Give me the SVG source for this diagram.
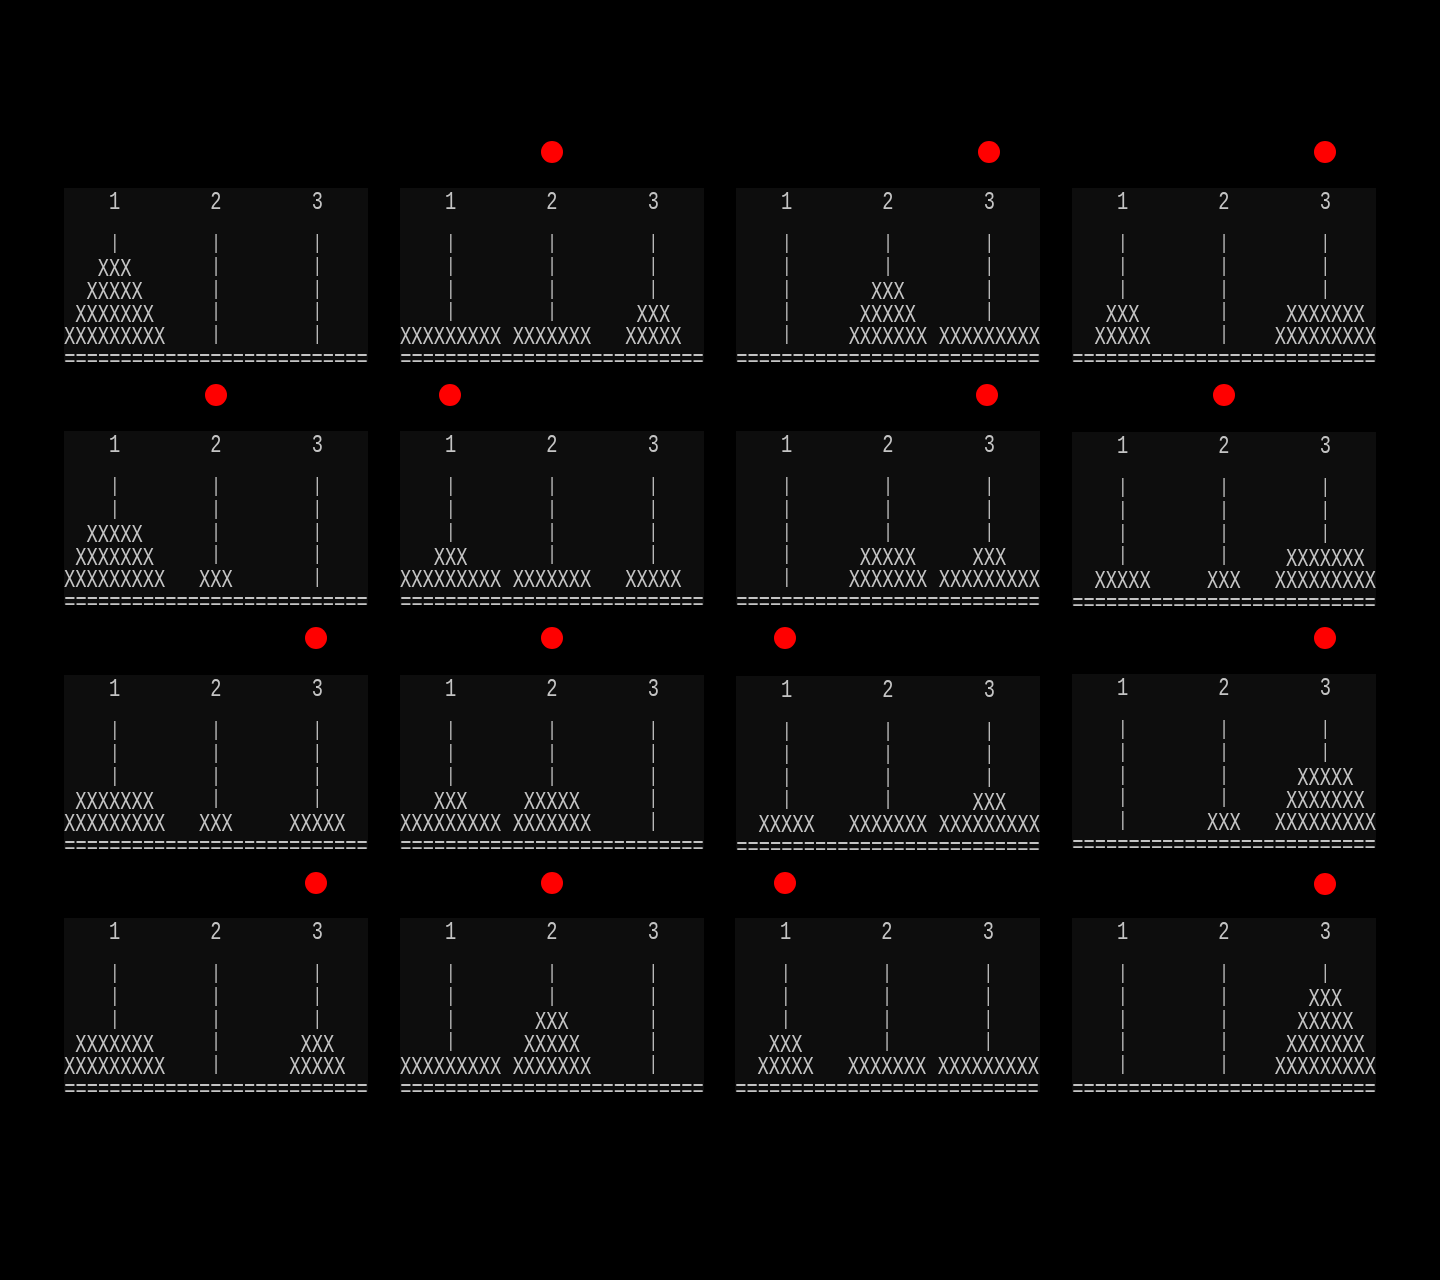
<svg xmlns="http://www.w3.org/2000/svg" width="1440" height="1280" viewBox="0 0 1440 1280">
<defs>
<filter id="gs" x="-5%" y="-5%" width="110%" height="110%"><feOffset dx="0" dy="0"/></filter>
</defs>
<style>
.bg{fill:#0d0d0d}
.a{font-family:"Liberation Mono","DejaVu Sans Mono",monospace;font-size:18.76px;fill:#c4c4c4;text-anchor:middle;transform:scale(1,1.35);filter:url(#gs)}
.p{font-size:15.2px}
.dot{fill:#ff0000}
</style>
<rect width="1440" height="1280" fill="#000"/>

<g id="panel-1" transform="translate(64,188)">
<rect class="bg" width="304" height="174"/>
<text class="a"><tspan x="50.7" y="15.6">1</tspan><tspan x="152" y="15.6">2</tspan><tspan x="253.3" y="15.6">3</tspan><tspan class="p" x="50.7" y="45.3">|</tspan><tspan x="50.7" y="65.3">XXX</tspan><tspan x="50.7" y="82.1">XXXXX</tspan><tspan x="50.7" y="99">XXXXXXX</tspan><tspan x="50.7" y="115.8">XXXXXXXXX</tspan><tspan class="p" x="152" y="45.3">|</tspan><tspan class="p" x="152" y="62.1">|</tspan><tspan class="p" x="152" y="78.9">|</tspan><tspan class="p" x="152" y="95.8">|</tspan><tspan class="p" x="152" y="112.6">|</tspan><tspan class="p" x="253.3" y="45.3">|</tspan><tspan class="p" x="253.3" y="62.1">|</tspan><tspan class="p" x="253.3" y="78.9">|</tspan><tspan class="p" x="253.3" y="95.8">|</tspan><tspan class="p" x="253.3" y="112.6">|</tspan><tspan x="152" y="132.2">===========================</tspan></text>
</g>

<g id="panel-2" transform="translate(400,188)">
<rect class="bg" width="304" height="174"/>
<circle class="dot" cx="152" cy="-36" r="11"/>
<text class="a"><tspan x="50.7" y="15.6">1</tspan><tspan x="152" y="15.6">2</tspan><tspan x="253.3" y="15.6">3</tspan><tspan class="p" x="50.7" y="45.3">|</tspan><tspan class="p" x="50.7" y="62.1">|</tspan><tspan class="p" x="50.7" y="78.9">|</tspan><tspan class="p" x="50.7" y="95.8">|</tspan><tspan x="50.7" y="115.8">XXXXXXXXX</tspan><tspan class="p" x="152" y="45.3">|</tspan><tspan class="p" x="152" y="62.1">|</tspan><tspan class="p" x="152" y="78.9">|</tspan><tspan class="p" x="152" y="95.8">|</tspan><tspan x="152" y="115.8">XXXXXXX</tspan><tspan class="p" x="253.3" y="45.3">|</tspan><tspan class="p" x="253.3" y="62.1">|</tspan><tspan class="p" x="253.3" y="78.9">|</tspan><tspan x="253.3" y="99">XXX</tspan><tspan x="253.3" y="115.8">XXXXX</tspan><tspan x="152" y="132.2">===========================</tspan></text>
</g>

<g id="panel-3" transform="translate(736,188)">
<rect class="bg" width="304" height="174"/>
<circle class="dot" cx="253" cy="-36" r="11"/>
<text class="a"><tspan x="50.7" y="15.6">1</tspan><tspan x="152" y="15.6">2</tspan><tspan x="253.3" y="15.6">3</tspan><tspan class="p" x="50.7" y="45.3">|</tspan><tspan class="p" x="50.7" y="62.1">|</tspan><tspan class="p" x="50.7" y="78.9">|</tspan><tspan class="p" x="50.7" y="95.8">|</tspan><tspan class="p" x="50.7" y="112.6">|</tspan><tspan class="p" x="152" y="45.3">|</tspan><tspan class="p" x="152" y="62.1">|</tspan><tspan x="152" y="82.1">XXX</tspan><tspan x="152" y="99">XXXXX</tspan><tspan x="152" y="115.8">XXXXXXX</tspan><tspan class="p" x="253.3" y="45.3">|</tspan><tspan class="p" x="253.3" y="62.1">|</tspan><tspan class="p" x="253.3" y="78.9">|</tspan><tspan class="p" x="253.3" y="95.8">|</tspan><tspan x="253.3" y="115.8">XXXXXXXXX</tspan><tspan x="152" y="132.2">===========================</tspan></text>
</g>

<g id="panel-4" transform="translate(1072,188)">
<rect class="bg" width="304" height="174"/>
<circle class="dot" cx="253" cy="-36" r="11"/>
<text class="a"><tspan x="50.7" y="15.6">1</tspan><tspan x="152" y="15.6">2</tspan><tspan x="253.3" y="15.6">3</tspan><tspan class="p" x="50.7" y="45.3">|</tspan><tspan class="p" x="50.7" y="62.1">|</tspan><tspan class="p" x="50.7" y="78.9">|</tspan><tspan x="50.7" y="99">XXX</tspan><tspan x="50.7" y="115.8">XXXXX</tspan><tspan class="p" x="152" y="45.3">|</tspan><tspan class="p" x="152" y="62.1">|</tspan><tspan class="p" x="152" y="78.9">|</tspan><tspan class="p" x="152" y="95.8">|</tspan><tspan class="p" x="152" y="112.6">|</tspan><tspan class="p" x="253.3" y="45.3">|</tspan><tspan class="p" x="253.3" y="62.1">|</tspan><tspan class="p" x="253.3" y="78.9">|</tspan><tspan x="253.3" y="99">XXXXXXX</tspan><tspan x="253.3" y="115.8">XXXXXXXXX</tspan><tspan x="152" y="132.2">===========================</tspan></text>
</g>

<g id="panel-5" transform="translate(64,431)">
<rect class="bg" width="304" height="174"/>
<circle class="dot" cx="152" cy="-36" r="11"/>
<text class="a"><tspan x="50.7" y="15.6">1</tspan><tspan x="152" y="15.6">2</tspan><tspan x="253.3" y="15.6">3</tspan><tspan class="p" x="50.7" y="45.3">|</tspan><tspan class="p" x="50.7" y="62.1">|</tspan><tspan x="50.7" y="82.1">XXXXX</tspan><tspan x="50.7" y="99">XXXXXXX</tspan><tspan x="50.7" y="115.8">XXXXXXXXX</tspan><tspan class="p" x="152" y="45.3">|</tspan><tspan class="p" x="152" y="62.1">|</tspan><tspan class="p" x="152" y="78.9">|</tspan><tspan class="p" x="152" y="95.8">|</tspan><tspan x="152" y="115.8">XXX</tspan><tspan class="p" x="253.3" y="45.3">|</tspan><tspan class="p" x="253.3" y="62.1">|</tspan><tspan class="p" x="253.3" y="78.9">|</tspan><tspan class="p" x="253.3" y="95.8">|</tspan><tspan class="p" x="253.3" y="112.6">|</tspan><tspan x="152" y="132.2">===========================</tspan></text>
</g>

<g id="panel-6" transform="translate(400,431)">
<rect class="bg" width="304" height="174"/>
<circle class="dot" cx="50" cy="-36" r="11"/>
<text class="a"><tspan x="50.7" y="15.6">1</tspan><tspan x="152" y="15.6">2</tspan><tspan x="253.3" y="15.6">3</tspan><tspan class="p" x="50.7" y="45.3">|</tspan><tspan class="p" x="50.7" y="62.1">|</tspan><tspan class="p" x="50.7" y="78.9">|</tspan><tspan x="50.7" y="99">XXX</tspan><tspan x="50.7" y="115.8">XXXXXXXXX</tspan><tspan class="p" x="152" y="45.3">|</tspan><tspan class="p" x="152" y="62.1">|</tspan><tspan class="p" x="152" y="78.9">|</tspan><tspan class="p" x="152" y="95.8">|</tspan><tspan x="152" y="115.8">XXXXXXX</tspan><tspan class="p" x="253.3" y="45.3">|</tspan><tspan class="p" x="253.3" y="62.1">|</tspan><tspan class="p" x="253.3" y="78.9">|</tspan><tspan class="p" x="253.3" y="95.8">|</tspan><tspan x="253.3" y="115.8">XXXXX</tspan><tspan x="152" y="132.2">===========================</tspan></text>
</g>

<g id="panel-7" transform="translate(736,431)">
<rect class="bg" width="304" height="174"/>
<circle class="dot" cx="251" cy="-36" r="11"/>
<text class="a"><tspan x="50.7" y="15.6">1</tspan><tspan x="152" y="15.6">2</tspan><tspan x="253.3" y="15.6">3</tspan><tspan class="p" x="50.7" y="45.3">|</tspan><tspan class="p" x="50.7" y="62.1">|</tspan><tspan class="p" x="50.7" y="78.9">|</tspan><tspan class="p" x="50.7" y="95.8">|</tspan><tspan class="p" x="50.7" y="112.6">|</tspan><tspan class="p" x="152" y="45.3">|</tspan><tspan class="p" x="152" y="62.1">|</tspan><tspan class="p" x="152" y="78.9">|</tspan><tspan x="152" y="99">XXXXX</tspan><tspan x="152" y="115.8">XXXXXXX</tspan><tspan class="p" x="253.3" y="45.3">|</tspan><tspan class="p" x="253.3" y="62.1">|</tspan><tspan class="p" x="253.3" y="78.9">|</tspan><tspan x="253.3" y="99">XXX</tspan><tspan x="253.3" y="115.8">XXXXXXXXX</tspan><tspan x="152" y="132.2">===========================</tspan></text>
</g>

<g id="panel-8" transform="translate(1072,432)">
<rect class="bg" width="304" height="174"/>
<circle class="dot" cx="152" cy="-37" r="11"/>
<text class="a"><tspan x="50.7" y="15.6">1</tspan><tspan x="152" y="15.6">2</tspan><tspan x="253.3" y="15.6">3</tspan><tspan class="p" x="50.7" y="45.3">|</tspan><tspan class="p" x="50.7" y="62.1">|</tspan><tspan class="p" x="50.7" y="78.9">|</tspan><tspan class="p" x="50.7" y="95.8">|</tspan><tspan x="50.7" y="115.8">XXXXX</tspan><tspan class="p" x="152" y="45.3">|</tspan><tspan class="p" x="152" y="62.1">|</tspan><tspan class="p" x="152" y="78.9">|</tspan><tspan class="p" x="152" y="95.8">|</tspan><tspan x="152" y="115.8">XXX</tspan><tspan class="p" x="253.3" y="45.3">|</tspan><tspan class="p" x="253.3" y="62.1">|</tspan><tspan class="p" x="253.3" y="78.9">|</tspan><tspan x="253.3" y="99">XXXXXXX</tspan><tspan x="253.3" y="115.8">XXXXXXXXX</tspan><tspan x="152" y="132.2">===========================</tspan></text>
</g>

<g id="panel-9" transform="translate(64,675)">
<rect class="bg" width="304" height="174"/>
<circle class="dot" cx="252" cy="-37" r="11"/>
<text class="a"><tspan x="50.7" y="15.6">1</tspan><tspan x="152" y="15.6">2</tspan><tspan x="253.3" y="15.6">3</tspan><tspan class="p" x="50.7" y="45.3">|</tspan><tspan class="p" x="50.7" y="62.1">|</tspan><tspan class="p" x="50.7" y="78.9">|</tspan><tspan x="50.7" y="99">XXXXXXX</tspan><tspan x="50.7" y="115.8">XXXXXXXXX</tspan><tspan class="p" x="152" y="45.3">|</tspan><tspan class="p" x="152" y="62.1">|</tspan><tspan class="p" x="152" y="78.9">|</tspan><tspan class="p" x="152" y="95.8">|</tspan><tspan x="152" y="115.8">XXX</tspan><tspan class="p" x="253.3" y="45.3">|</tspan><tspan class="p" x="253.3" y="62.1">|</tspan><tspan class="p" x="253.3" y="78.9">|</tspan><tspan class="p" x="253.3" y="95.8">|</tspan><tspan x="253.3" y="115.8">XXXXX</tspan><tspan x="152" y="132.2">===========================</tspan></text>
</g>

<g id="panel-10" transform="translate(400,675)">
<rect class="bg" width="304" height="174"/>
<circle class="dot" cx="152" cy="-37" r="11"/>
<text class="a"><tspan x="50.7" y="15.6">1</tspan><tspan x="152" y="15.6">2</tspan><tspan x="253.3" y="15.6">3</tspan><tspan class="p" x="50.7" y="45.3">|</tspan><tspan class="p" x="50.7" y="62.1">|</tspan><tspan class="p" x="50.7" y="78.9">|</tspan><tspan x="50.7" y="99">XXX</tspan><tspan x="50.7" y="115.8">XXXXXXXXX</tspan><tspan class="p" x="152" y="45.3">|</tspan><tspan class="p" x="152" y="62.1">|</tspan><tspan class="p" x="152" y="78.9">|</tspan><tspan x="152" y="99">XXXXX</tspan><tspan x="152" y="115.8">XXXXXXX</tspan><tspan class="p" x="253.3" y="45.3">|</tspan><tspan class="p" x="253.3" y="62.1">|</tspan><tspan class="p" x="253.3" y="78.9">|</tspan><tspan class="p" x="253.3" y="95.8">|</tspan><tspan class="p" x="253.3" y="112.6">|</tspan><tspan x="152" y="132.2">===========================</tspan></text>
</g>

<g id="panel-11" transform="translate(736,676)">
<rect class="bg" width="304" height="174"/>
<circle class="dot" cx="49" cy="-38" r="11"/>
<text class="a"><tspan x="50.7" y="15.6">1</tspan><tspan x="152" y="15.6">2</tspan><tspan x="253.3" y="15.6">3</tspan><tspan class="p" x="50.7" y="45.3">|</tspan><tspan class="p" x="50.7" y="62.1">|</tspan><tspan class="p" x="50.7" y="78.9">|</tspan><tspan class="p" x="50.7" y="95.8">|</tspan><tspan x="50.7" y="115.8">XXXXX</tspan><tspan class="p" x="152" y="45.3">|</tspan><tspan class="p" x="152" y="62.1">|</tspan><tspan class="p" x="152" y="78.9">|</tspan><tspan class="p" x="152" y="95.8">|</tspan><tspan x="152" y="115.8">XXXXXXX</tspan><tspan class="p" x="253.3" y="45.3">|</tspan><tspan class="p" x="253.3" y="62.1">|</tspan><tspan class="p" x="253.3" y="78.9">|</tspan><tspan x="253.3" y="99">XXX</tspan><tspan x="253.3" y="115.8">XXXXXXXXX</tspan><tspan x="152" y="132.2">===========================</tspan></text>
</g>

<g id="panel-12" transform="translate(1072,674)">
<rect class="bg" width="304" height="174"/>
<circle class="dot" cx="253" cy="-36" r="11"/>
<text class="a"><tspan x="50.7" y="15.6">1</tspan><tspan x="152" y="15.6">2</tspan><tspan x="253.3" y="15.6">3</tspan><tspan class="p" x="50.7" y="45.3">|</tspan><tspan class="p" x="50.7" y="62.1">|</tspan><tspan class="p" x="50.7" y="78.9">|</tspan><tspan class="p" x="50.7" y="95.8">|</tspan><tspan class="p" x="50.7" y="112.6">|</tspan><tspan class="p" x="152" y="45.3">|</tspan><tspan class="p" x="152" y="62.1">|</tspan><tspan class="p" x="152" y="78.9">|</tspan><tspan class="p" x="152" y="95.8">|</tspan><tspan x="152" y="115.8">XXX</tspan><tspan class="p" x="253.3" y="45.3">|</tspan><tspan class="p" x="253.3" y="62.1">|</tspan><tspan x="253.3" y="82.1">XXXXX</tspan><tspan x="253.3" y="99">XXXXXXX</tspan><tspan x="253.3" y="115.8">XXXXXXXXX</tspan><tspan x="152" y="132.2">===========================</tspan></text>
</g>

<g id="panel-13" transform="translate(64,918)">
<rect class="bg" width="304" height="174"/>
<circle class="dot" cx="252" cy="-35" r="11"/>
<text class="a"><tspan x="50.7" y="15.6">1</tspan><tspan x="152" y="15.6">2</tspan><tspan x="253.3" y="15.6">3</tspan><tspan class="p" x="50.7" y="45.3">|</tspan><tspan class="p" x="50.7" y="62.1">|</tspan><tspan class="p" x="50.7" y="78.9">|</tspan><tspan x="50.7" y="99">XXXXXXX</tspan><tspan x="50.7" y="115.8">XXXXXXXXX</tspan><tspan class="p" x="152" y="45.3">|</tspan><tspan class="p" x="152" y="62.1">|</tspan><tspan class="p" x="152" y="78.9">|</tspan><tspan class="p" x="152" y="95.8">|</tspan><tspan class="p" x="152" y="112.6">|</tspan><tspan class="p" x="253.3" y="45.3">|</tspan><tspan class="p" x="253.3" y="62.1">|</tspan><tspan class="p" x="253.3" y="78.9">|</tspan><tspan x="253.3" y="99">XXX</tspan><tspan x="253.3" y="115.8">XXXXX</tspan><tspan x="152" y="132.2">===========================</tspan></text>
</g>

<g id="panel-14" transform="translate(400,918)">
<rect class="bg" width="304" height="174"/>
<circle class="dot" cx="152" cy="-35" r="11"/>
<text class="a"><tspan x="50.7" y="15.6">1</tspan><tspan x="152" y="15.6">2</tspan><tspan x="253.3" y="15.6">3</tspan><tspan class="p" x="50.7" y="45.3">|</tspan><tspan class="p" x="50.7" y="62.1">|</tspan><tspan class="p" x="50.7" y="78.9">|</tspan><tspan class="p" x="50.7" y="95.8">|</tspan><tspan x="50.7" y="115.8">XXXXXXXXX</tspan><tspan class="p" x="152" y="45.3">|</tspan><tspan class="p" x="152" y="62.1">|</tspan><tspan x="152" y="82.1">XXX</tspan><tspan x="152" y="99">XXXXX</tspan><tspan x="152" y="115.8">XXXXXXX</tspan><tspan class="p" x="253.3" y="45.3">|</tspan><tspan class="p" x="253.3" y="62.1">|</tspan><tspan class="p" x="253.3" y="78.9">|</tspan><tspan class="p" x="253.3" y="95.8">|</tspan><tspan class="p" x="253.3" y="112.6">|</tspan><tspan x="152" y="132.2">===========================</tspan></text>
</g>

<g id="panel-15" transform="translate(735,918)">
<rect class="bg" width="305" height="174"/>
<circle class="dot" cx="50" cy="-35" r="11"/>
<text class="a"><tspan x="50.7" y="15.6">1</tspan><tspan x="152" y="15.6">2</tspan><tspan x="253.3" y="15.6">3</tspan><tspan class="p" x="50.7" y="45.3">|</tspan><tspan class="p" x="50.7" y="62.1">|</tspan><tspan class="p" x="50.7" y="78.9">|</tspan><tspan x="50.7" y="99">XXX</tspan><tspan x="50.7" y="115.8">XXXXX</tspan><tspan class="p" x="152" y="45.3">|</tspan><tspan class="p" x="152" y="62.1">|</tspan><tspan class="p" x="152" y="78.9">|</tspan><tspan class="p" x="152" y="95.8">|</tspan><tspan x="152" y="115.8">XXXXXXX</tspan><tspan class="p" x="253.3" y="45.3">|</tspan><tspan class="p" x="253.3" y="62.1">|</tspan><tspan class="p" x="253.3" y="78.9">|</tspan><tspan class="p" x="253.3" y="95.8">|</tspan><tspan x="253.3" y="115.8">XXXXXXXXX</tspan><tspan x="152" y="132.2">===========================</tspan></text>
</g>

<g id="panel-16" transform="translate(1072,918)">
<rect class="bg" width="304" height="174"/>
<circle class="dot" cx="253" cy="-34" r="11"/>
<text class="a"><tspan x="50.7" y="15.6">1</tspan><tspan x="152" y="15.6">2</tspan><tspan x="253.3" y="15.6">3</tspan><tspan class="p" x="50.7" y="45.3">|</tspan><tspan class="p" x="50.7" y="62.1">|</tspan><tspan class="p" x="50.7" y="78.9">|</tspan><tspan class="p" x="50.7" y="95.8">|</tspan><tspan class="p" x="50.7" y="112.6">|</tspan><tspan class="p" x="152" y="45.3">|</tspan><tspan class="p" x="152" y="62.1">|</tspan><tspan class="p" x="152" y="78.9">|</tspan><tspan class="p" x="152" y="95.8">|</tspan><tspan class="p" x="152" y="112.6">|</tspan><tspan class="p" x="253.3" y="45.3">|</tspan><tspan x="253.3" y="65.3">XXX</tspan><tspan x="253.3" y="82.1">XXXXX</tspan><tspan x="253.3" y="99">XXXXXXX</tspan><tspan x="253.3" y="115.8">XXXXXXXXX</tspan><tspan x="152" y="132.2">===========================</tspan></text>
</g>
</svg>
